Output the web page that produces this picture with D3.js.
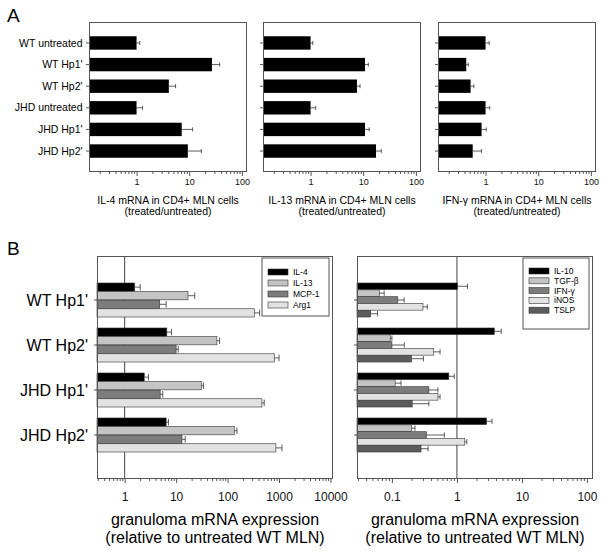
<!DOCTYPE html>
<html>
<head>
<meta charset="utf-8">
<script src="https://cdn.jsdelivr.net/npm/d3@7"></script>
<style>
  body { margin: 0; background: #fff; }
  svg { font-family: Arial, "Liberation Sans", sans-serif; }
  .domain { display: none; }
</style>
</head>
<body>
<svg id="viz" width="604" height="554"></svg>
<script>
// ------------------------------------------------------------
// DATA

// panel A: CD4+ MLN cells, treated/untreated
var aCategories = ["WT untreated", "WT Hp1'", "WT Hp2'", "JHD untreated", "JHD Hp1'", "JHD Hp2'"];
var il4Mean  = [1.0, 27, 4.1, 1.0, 7.2, 9.4];
var il4Err   = [1.15, 38, 5.5, 1.3, 11.6, 17];
var il13Mean = [1.0, 10.8, 7.6, 1.0, 10.8, 17.5];
var il13Err  = [1.1, 12.5, 8.7, 1.25, 13, 22];
var ifngMean = [1.0, 0.43, 0.52, 1.0, 0.84, 0.57];
var ifngErr  = [1.17, 0.47, 0.6, 1.2, 1.03, 0.84];
var aTicks   = [1, 10, 100];

// panel B: granuloma mRNA, relative to untreated WT MLN
var bGroups = ["WT Hp1'", "WT Hp2'", "JHD Hp1'", "JHD Hp2'"];

var b1Genes = ["IL-4", "IL-13", "MCP-1", "Arg1"];
var b1Mean = {
  "IL-4":  [1.56, 6.6, 2.4, 6.4],
  "IL-13": [17, 62, 31, 135],
  "MCP-1": [4.8, 10, 4.9, 13],
  "Arg1":  [334, 817, 465, 870]
};
var b1Err = {
  "IL-4":  [2.0, 8.1, 2.9, 7.1],
  "IL-13": [23, 70, 34, 152],
  "MCP-1": [6.4, 11, 5.5, 15],
  "Arg1":  [420, 1000, 515, 1140]
};
var b1Ticks = [1, 10, 100, 1000, 10000];

var b2Genes = ["IL-10", "TGF-\u03b2", "IFN-\u03b3", "iNOS", "TSLP"];
var b2Mean = {
  "IL-10":      [1.02, 3.76, 0.75, 2.85],
  "TGF-\u03b2": [0.064, 0.094, 0.112, 0.2],
  "IFN-\u03b3": [0.123, 0.1, 0.37, 0.34],
  "iNOS":       [0.30, 0.44, 0.51, 1.32],
  "TSLP":       [0.047, 0.2, 0.205, 0.28]
};
var b2Err = {
  "IL-10":      [1.45, 4.8, 0.91, 3.47],
  "TGF-\u03b2": [0.076, 0.1, 0.138, 0.226],
  "IFN-\u03b3": [0.154, 0.155, 0.51, 0.64],
  "iNOS":       [0.35, 0.55, 0.55, 1.42],
  "TSLP":       [0.06, 0.305, 0.37, 0.36]
};
var b2Ticks = [0.1, 1, 10, 100];

// ------------------------------------------------------------
// SETUP

var viz = d3.select("#viz");
var frameColor = "#555";

function fmt(d) { return d >= 1 ? d3.format("d")(d) : String(d); }

function drawFrame(g, w, h) {
  g.append("rect")
    .attr("x", 0.5).attr("y", 0.5)
    .attr("width", w - 1).attr("height", h - 1)
    .attr("fill", "none").attr("stroke", frameColor).attr("stroke-width", 1);
}

function drawXAxis(g, x, h, ticks, fontSize, pad) {
  var minor = x.ticks().filter(function(t) { return ticks.indexOf(t) < 0; });
  g.append("g")
    .attr("transform", "translate(0," + h + ")")
    .call(d3.axisBottom(x).tickValues(minor).tickSize(2).tickFormat(""))
    .selectAll("line").attr("stroke", frameColor);
  var ax = g.append("g")
    .attr("transform", "translate(0," + h + ")")
    .call(d3.axisBottom(x).tickValues(ticks).tickSize(4).tickPadding(pad).tickFormat(fmt));
  ax.selectAll("line").attr("stroke", frameColor);
  ax.selectAll("text").attr("font-size", fontSize).attr("font-family", "Arial, 'Liberation Sans', sans-serif").attr("fill", "#111");
}

function drawYTicks(g, y) {
  g.append("g")
    .call(d3.axisLeft(y).tickSize(3).tickFormat(""))
    .selectAll("line").attr("stroke", frameColor);
}

function errorBars(g, x, yPos, bw, means, errs, capH) {
  means.forEach(function(m, i) {
    var cy = yPos(i) + bw / 2;
    g.append("line")
      .attr("x1", x(m)).attr("x2", x(errs[i]))
      .attr("y1", cy).attr("y2", cy)
      .attr("stroke", "#333").attr("stroke-width", 0.8);
    g.append("line")
      .attr("x1", x(errs[i])).attr("x2", x(errs[i]))
      .attr("y1", cy - capH / 2).attr("y2", cy + capH / 2)
      .attr("stroke", "#333").attr("stroke-width", 0.8);
  });
}

// ------------------------------------------------------------
// PANEL A

viz.append("text").attr("x", 7).attr("y", 22).attr("font-size", 19).text("A");

var aW = 158, aH = 150, aTop = 22;
var aPanels = [
  {left: 89,  mean: il4Mean,  err: il4Err,  title: "IL-4 mRNA in CD4+ MLN cells"},
  {left: 263, mean: il13Mean, err: il13Err, title: "IL-13 mRNA in CD4+ MLN cells"},
  {left: 438, mean: ifngMean, err: ifngErr, title: "IFN-\u03b3 mRNA in CD4+ MLN cells"}
];

var aY = d3.scaleBand().domain(aCategories).range([0, aH]).paddingInner(0.38).paddingOuter(0.66);

aPanels.forEach(function(p, pi) {
  var g = viz.append("g").attr("transform", "translate(" + p.left + "," + aTop + ")");
  var x = d3.scaleLog().domain([0.125, 125]).range([0, aW]);

  drawYTicks(g, aY);
  drawXAxis(g, x, aH, aTicks, 9, 3);

  g.selectAll("rect.bar")
    .data(p.mean)
    .enter()
    .append("rect")
    .attr("class", "bar")
    .attr("x", 0)
    .attr("y", function(d, i) { return aY(aCategories[i]); })
    .attr("width", function(d) { return x(d); })
    .attr("height", aY.bandwidth())
    .attr("fill", "#000");

  errorBars(g, x, function(i) { return aY(aCategories[i]); }, aY.bandwidth(), p.mean, p.err, 4);
  drawFrame(g, aW, aH);

  g.append("text").attr("x", aW / 2).attr("y", 182).attr("text-anchor", "middle")
    .attr("font-size", 10.5).text(p.title);
  g.append("text").attr("x", aW / 2).attr("y", 192.5).attr("text-anchor", "middle")
    .attr("font-size", 10.5).text("(treated/untreated)");

  if (pi === 0) {
    g.selectAll("text.cat")
      .data(aCategories)
      .enter()
      .append("text")
      .attr("class", "cat")
      .attr("x", -6.5)
      .attr("y", function(d) { return aY(d) + aY.bandwidth() / 2; })
      .attr("dy", "0.35em")
      .attr("text-anchor", "end")
      .attr("font-size", 10.5)
      .text(function(d) { return d; });
  }
});

// ------------------------------------------------------------
// PANEL B

viz.append("text").attr("x", 7).attr("y", 255).attr("font-size", 19).text("B");

var bW = 236, bH = 223, bTop = 256;
var bY = d3.scaleBand().domain(bGroups).range([0, bH]).paddingInner(0.244).paddingOuter(0.6);

var bPanels = [
  {left: 97, domain: [0.29, 11200], ticks: b1Ticks, genes: b1Genes, mean: b1Mean, err: b1Err,
   colors: ["#000", "#c4c4c4", "#7c7c7c", "#e2e2e2"],
   legend: {x: 165, y: 2, w: 67, h: 58, row: 11, first: 14}},
  {left: 357, domain: [0.029, 124], ticks: b2Ticks, genes: b2Genes, mean: b2Mean, err: b2Err,
   colors: ["#000", "#c4c4c4", "#7c7c7c", "#e2e2e2", "#5c5c5c"],
   legend: {x: 166, y: 2, w: 66, h: 71, row: 9.8, first: 13}}
];

bPanels.forEach(function(p, pi) {
  var g = viz.append("g").attr("transform", "translate(" + p.left + "," + bTop + ")");
  var x = d3.scaleLog().domain(p.domain).range([0, bW]);
  var sub = d3.scaleBand().domain(p.genes).range([0, bY.bandwidth()]).paddingInner(0.04);

  drawYTicks(g, bY);
  drawXAxis(g, x, bH, p.ticks, 12, 9);

  // reference line at 1
  g.append("line")
    .attr("x1", x(1)).attr("x2", x(1)).attr("y1", 0).attr("y2", bH)
    .attr("stroke", "#444").attr("stroke-width", 1);

  p.genes.forEach(function(gene, gi) {
    var rowY = function(i) { return bY(bGroups[i]) + sub(gene); };
    g.selectAll("rect.b" + gi)
      .data(p.mean[gene])
      .enter()
      .append("rect")
      .attr("x", 0)
      .attr("y", function(d, i) { return rowY(i); })
      .attr("width", function(d) { return x(d); })
      .attr("height", sub.bandwidth())
      .attr("fill", p.colors[gi])
      .attr("stroke", "#333")
      .attr("stroke-width", 0.6);
    errorBars(g, x, rowY, sub.bandwidth(), p.mean[gene], p.err[gene], sub.bandwidth() * 0.8);
  });

  // legend
  var L = p.legend;
  var lg = g.append("g").attr("transform", "translate(" + L.x + "," + L.y + ")");
  lg.append("rect").attr("width", L.w).attr("height", L.h)
    .attr("fill", "#fff").attr("stroke", frameColor);
  p.genes.forEach(function(gene, gi) {
    var ly = L.first + gi * L.row;
    lg.append("rect").attr("x", 6).attr("y", ly - 3).attr("width", 20).attr("height", 6)
      .attr("fill", p.colors[gi]).attr("stroke", "#333").attr("stroke-width", 0.6);
    lg.append("text").attr("x", 31).attr("y", ly).attr("dy", "0.35em")
      .attr("font-size", 8.5).text(gene);
  });

  drawFrame(g, bW, bH);

  g.append("text").attr("x", bW / 2).attr("y", 269).attr("text-anchor", "middle")
    .attr("font-size", 16).text("granuloma mRNA expression");
  g.append("text").attr("x", bW / 2).attr("y", 287).attr("text-anchor", "middle")
    .attr("font-size", 16).text("(relative to untreated WT MLN)");

  if (pi === 0) {
    g.selectAll("text.grp")
      .data(bGroups)
      .enter()
      .append("text")
      .attr("class", "grp")
      .attr("x", -9)
      .attr("y", function(d) { return bY(d) + bY.bandwidth() / 2; })
      .attr("dy", "0.35em")
      .attr("text-anchor", "end")
      .attr("font-size", 16)
      .text(function(d) { return d; });
  }
});
</script>
</body>
</html>
